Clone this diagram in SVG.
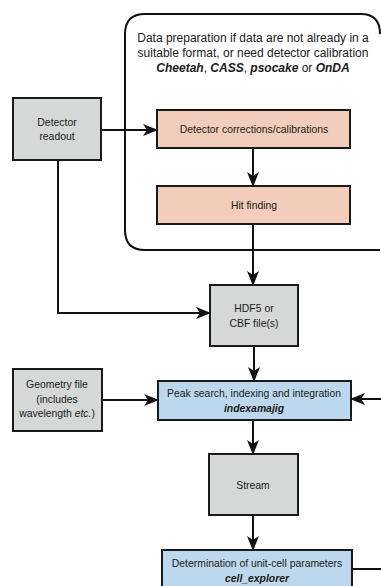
<svg xmlns="http://www.w3.org/2000/svg" width="381" height="586" viewBox="0 0 381 586">
  <style>
    .box { stroke: #1a1a1a; stroke-width: 2; }
    .grey { fill: #d5d8d7; }
    .peach { fill: #f2cdbb; }
    .blue { fill: #bdd8ed; }
    .wire { fill: none; stroke: #111; stroke-width: 2; }
    text { font-family: "Liberation Sans", Arial, sans-serif; font-size: 10.4px; fill: #1a1a1a; text-anchor: middle; }
    .hdr { font-size: 12px; }
    .bi { font-weight: bold; font-style: italic; }
  </style>
  <defs>
    <marker id="arrow" viewBox="0 0 15 12" refX="14" refY="6" markerWidth="15" markerHeight="12" markerUnits="userSpaceOnUse" orient="auto">
      <path d="M0,0 L15,6 L0,12 L4,6 Z" fill="#111"/>
    </marker>
  </defs>

  <!-- data preparation container -->
  <g id="prep">
    <path d="M380,250 L145,250 Q125,250 125,230 L125,34 Q125,14 145,14 L361,14 Q380,14 380,34" fill="#fff" stroke="#111" stroke-width="2"/>
    <text class="hdr" x="253" y="42">Data preparation if data are not already in a</text>
    <text class="hdr" x="253" y="57">suitable format, or need detector calibration</text>
    <text class="hdr" x="253" y="72"><tspan class="bi">Cheetah</tspan>, <tspan class="bi">CASS</tspan>, <tspan class="bi">psocake</tspan> or <tspan class="bi">OnDA</tspan></text>
  </g>

  <g id="readout">
    <rect class="box grey" x="13" y="98" width="88" height="62"/>
    <text x="57" y="126">Detector</text>
    <text x="57" y="140">readout</text>
  </g>

  <g id="corrections">
    <rect class="box peach" x="157" y="110" width="193" height="38"/>
    <text x="254" y="133">Detector corrections/calibrations</text>
  </g>

  <g id="hitfinding">
    <rect class="box peach" x="157" y="186" width="193" height="38"/>
    <text x="254" y="209">Hit finding</text>
  </g>

  <g id="files">
    <rect class="box grey" x="210" y="285" width="88" height="61"/>
    <text x="254" y="312">HDF5 or</text>
    <text x="254" y="327">CBF file(s)</text>
  </g>

  <g id="geometry">
    <rect class="box grey" x="13" y="369" width="89" height="62"/>
    <text x="57" y="388">Geometry file</text>
    <text x="57" y="403">(includes</text>
    <text x="57" y="417">wavelength <tspan font-style="italic">etc.</tspan>)</text>
  </g>

  <g id="indexamajig">
    <rect class="box blue" x="158" y="381" width="193" height="39"/>
    <text x="254" y="397">Peak search, indexing and integration</text>
    <text x="254" y="412" class="bi">indexamajig</text>
  </g>

  <g id="stream">
    <rect class="box grey" x="209" y="454" width="89" height="61"/>
    <text x="253" y="489">Stream</text>
  </g>

  <g id="cellexplorer">
    <rect class="box blue" x="162" y="550" width="190" height="40"/>
    <text x="257" y="567">Determination of unit-cell parameters</text>
    <text x="257" y="582" class="bi">cell_explorer</text>
  </g>

  <g id="connectors">
    <path class="wire" d="M101,130 L157,130" marker-end="url(#arrow)"/>
    <path class="wire" d="M253,148 L253,186" marker-end="url(#arrow)"/>
    <path class="wire" d="M253,224 L253,285" marker-end="url(#arrow)"/>
    <path class="wire" d="M58,160 L58,313 L210,313" marker-end="url(#arrow)"/>
    <path class="wire" d="M254,346 L254,381" marker-end="url(#arrow)"/>
    <path class="wire" d="M102,400 L158,400" marker-end="url(#arrow)"/>
    <path class="wire" d="M381,399 L351,399" marker-end="url(#arrow)"/>
    <path class="wire" d="M253,420 L253,454" marker-end="url(#arrow)"/>
    <path class="wire" d="M253,515 L253,550" marker-end="url(#arrow)"/>
    <path class="wire" d="M352,569 L381,569"/>
  </g>
</svg>
